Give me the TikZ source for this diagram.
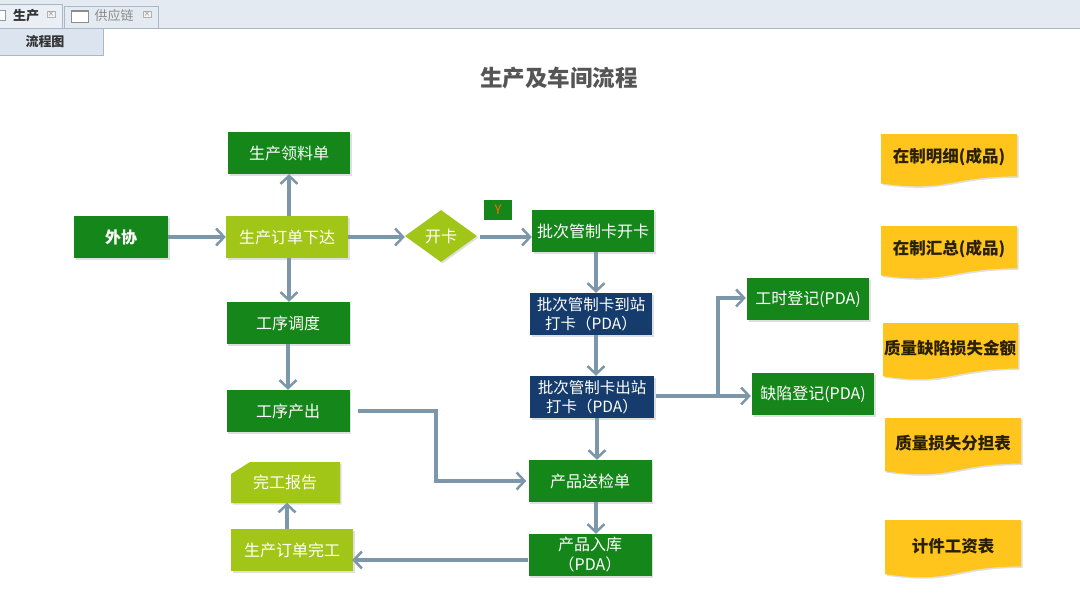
\documentclass[tikz,border=0pt]{standalone}
\usepackage{fontspec}
\setmainfont{Noto Sans CJK SC}
\usetikzlibrary{arrows.meta,shapes.geometric,shadows}
\definecolor{dkgreen}{HTML}{15861A}
\definecolor{ygreen}{HTML}{A2C617}
\definecolor{navy}{HTML}{153C6C}
\definecolor{gold}{HTML}{FFC51C}
\definecolor{arrowc}{HTML}{7C97AA}
\definecolor{barc}{HTML}{E3EAF2}
\definecolor{panelc}{HTML}{DCE5EF}
\definecolor{tabborder}{HTML}{A9B7C6}
\definecolor{titlec}{HTML}{555555}
\definecolor{doctext}{HTML}{2A2000}
\newcommand\docshape[4]{% x1 y1 x2 H
  \fill[gold, drop shadow={shadow xshift=1.5pt,shadow yshift=-1.5pt,opacity=0.25}]
    (#1,#2) -- (#3,#2) -- (#3,{#2+0.80*#4})
    .. controls ({(#1+#3)/2},{#2+0.80*#4}) and ({(#1+#3)/2},{#2+1.107*#4}) ..
    (#1,{#2+0.934*#4}) -- cycle;
}
\begin{document}
\begin{tikzpicture}[x=1pt,y=-1pt,
  shad/.style={drop shadow={shadow xshift=1.5pt,shadow yshift=-1.5pt,opacity=0.25}},
  box/.style={rectangle, minimum width=#1, minimum height=42pt, inner sep=0pt,
    text=white, font=\fontsize{16}{19}\selectfont, align=center, shad},
  box/.default=122pt,
  gbox/.style={box=#1, fill=dkgreen},
  gbox/.default=122pt,
  ybox/.style={box=#1, fill=ygreen},
  ybox/.default=122pt,
  nbox/.style={box=#1, fill=navy, font=\fontsize{15.5}{19.5}\selectfont},
  nbox/.default=122pt,
  doc/.style={text=doctext, font=\bfseries\fontsize{16.5}{19}\selectfont, inner sep=0pt},
  flow/.style={draw=arrowc, line width=3.5pt,
    -{Straight Barb[length=8pt,width=17pt,line width=2.5pt]}}
]
\useasboundingbox (0,0) rectangle (1080,594);
\fill[white] (0,0) rectangle (1080,594);
% header bar
\fill[barc] (0,0) rectangle (1080,28);
\draw[tabborder] (0,28) -- (1080,28);
\filldraw[fill=panelc!60!white, draw=tabborder] (-2,28) -- (-2,4) -- (62,4) -- (62,28);
\filldraw[fill=barc, draw=tabborder] (64,28) -- (64,6) -- (158,6) -- (158,28);
\filldraw[fill=panelc, draw=tabborder] (-1,28) rectangle (103,55);
\draw[gray!80, fill=white] (-3,10) rectangle (5,20);
\node[font=\bfseries\fontsize{13}{15}\selectfont, text=black!80] (tab1) at (26,16) {生产};
\node[draw=gray!60, fill=gray!10, inner sep=0.5pt, font=\fontsize{7}{8}\selectfont, text=gray] (x1) at (51,14) {×};
\draw[gray!90, line width=0.8pt, fill=white] (71,10) rectangle (88,22);
\draw[gray!90, line width=2pt] (71,11) -- (88,11);
\node[font=\fontsize{13}{15}\selectfont, text=gray!90] (tab2) at (114,16) {供应链};
\node[draw=gray!60, fill=gray!10, inner sep=0.5pt, font=\fontsize{7}{8}\selectfont, text=gray] (x2) at (147,14) {×};
\node[font=\bfseries\fontsize{13}{15}\selectfont, text=black!80] (panel) at (45,42) {流程图};
% title
\node[font=\bfseries\fontsize{22.5}{26}\selectfont, text=titlec] (title) at (559,78) {生产及车间流程};
% nodes
\node[gbox=94pt, font=\bfseries\fontsize{16}{19}\selectfont] (waixie) at (121,237) {外协};
\node[ybox] (xiada) at (287,237) {生产订单下达};
\node[gbox] (lingliao) at (289,153) {生产领料单};
\node[diamond, fill=ygreen, minimum width=72pt, minimum height=52pt, inner sep=0pt,
      text=white, font=\fontsize{16}{19}\selectfont, shad] (kaika) at (441,236) {开卡};
\node[fill=dkgreen, minimum width=28pt, minimum height=20pt, inner sep=0pt,
      text=orange!80!red, font=\fontsize{13}{14}\selectfont] (ylab) at (498,210) {Y};
\node[gbox] (kaika2) at (593,231) {批次管制卡开卡};
\node[nbox] (daozhan) at (591,314) {批次管制卡到站\\打卡（PDA）};
\node[nbox=124pt] (chuzhan) at (592,397) {批次管制卡出站\\打卡（PDA）};
\node[gbox=123pt] (songjian) at (590,481) {产品送检单};
\node[gbox=123pt, font=\fontsize{16}{20}\selectfont] (ruku) at (590,555) {产品入库\\（PDA）};
\node[gbox=123pt] (diaodu) at (288,323) {工序调度};
\node[gbox=123pt] (chanchu) at (288,411) {工序产出};
\fill[ygreen, shad] (250,462) -- (340,462) -- (340,503) -- (231,503) -- (231,474) -- cycle;
\node[minimum width=109pt, minimum height=41pt, inner sep=0pt, text=white,
      font=\fontsize{16}{19}\selectfont] (baogao) at (285,482) {完工报告};
\node[ybox] (wangong) at (292,550) {生产订单完工};
\node[gbox] (gongshi) at (808,299) {工时登记(PDA)};
\node[gbox] (quexian) at (813,394) {缺陷登记(PDA)};
% documents
\docshape{881}{134}{1017}{53}
\node[doc] (d1) at (949,157) {在制明细(成品)};
\docshape{881}{226}{1017}{53}
\node[doc] (d2) at (949,249) {在制汇总(成品)};
\docshape{883}{323}{1018}{57}
\node[doc] (d3) at (950,348) {质量缺陷损失金额};
\docshape{885}{418}{1021}{57}
\node[doc] (d4) at (953,443) {质量损失分担表};
\docshape{885}{520}{1021}{58}
\node[doc] (d5) at (953,546) {计件工资表};
% connectors
\draw[flow] (waixie.east) -- (xiada.west);
\draw[flow] ([xshift=2pt]xiada.north) -- ([xshift=2pt]xiada.north |- lingliao.south);
\draw[flow] (xiada.east) -- (xiada.east -| kaika.west);
\draw[flow] ([xshift=2pt]xiada.south) -- ([xshift=2pt]xiada.south |- diaodu.north);
\draw[flow] (diaodu.south) -- (chanchu.north);
\draw[flow] ([xshift=3pt,yshift=-1pt]kaika.east) -- ([yshift=-1pt]kaika.east -| kaika2.west);
\draw[flow] ([xshift=3pt]kaika2.south) -- ([xshift=3pt]kaika2.south |- daozhan.north);
\draw[flow] ([xshift=5pt]daozhan.south) -- ([xshift=5pt]daozhan.south |- chuzhan.north);
\draw[flow] ([xshift=5pt]chuzhan.south) -- ([xshift=5pt]chuzhan.south |- songjian.north);
\draw[flow] ([xshift=6pt]songjian.south) -- ([xshift=6pt]songjian.south |- ruku.north);
\coordinate (b1) at (436,0);
\draw[flow] ([xshift=8pt]chanchu.east) -- (chanchu.east -| b1) |- ([xshift=-2pt]songjian.west);
\draw[flow] ([yshift=-5pt]ruku.west) -- ([xshift=-1pt,yshift=-5pt]ruku.west -| wangong.east);
\draw[flow] ([xshift=-5pt]wangong.north) -- ([xshift=-5pt]wangong.north |- baogao.south);
\coordinate (br) at (718,396);
\draw[flow] ([xshift=2pt]chuzhan.east |- br) -- ([xshift=-1pt]quexian.west |- br);
\draw[flow] (br) |- ([xshift=-1pt,yshift=1pt]gongshi.west);
\end{tikzpicture}
\end{document}
